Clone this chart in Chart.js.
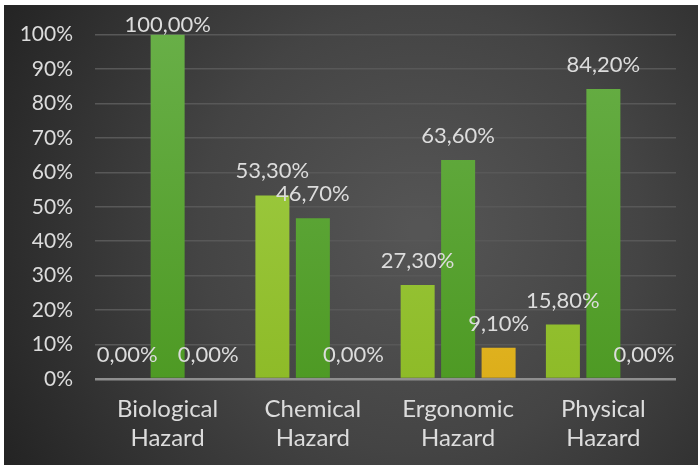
<!DOCTYPE html>
<html>
<head>
<meta charset="utf-8">
<script src="https://cdn.jsdelivr.net/npm/chart.js@4/dist/chart.umd.min.js"></script>
<style>
    html, body { margin: 0; padding: 0; background: #fff; }
    #wrap { width: 699px; height: 465px; }
</style>
</head>
<body>
<div id="wrap"><canvas id="chart" width="699" height="465"></canvas></div>
<script>
// data
const categories = [['Biological', 'Hazard'], ['Chemical', 'Hazard'], ['Ergonomic', 'Hazard'], ['Physical', 'Hazard']];
const series1 = [0, 53.3, 27.3, 15.8];   // light green
const series2 = [100, 46.7, 63.6, 84.2]; // green
const series3 = [0, 0, 9.1, 0];          // yellow
const yTicks = [0, 10, 20, 30, 40, 50, 60, 70, 80, 90, 100];

const textColor = '#dcdcdc';
const fontFamily = 'Lato, "Open Sans", sans-serif';

function barGradient(top, bottom) {
    return function (ctx) {
        const area = ctx.chart.chartArea;
        if (!area) return bottom;
        const g = ctx.chart.ctx.createLinearGradient(0, area.top, 0, area.bottom);
        g.addColorStop(0, top);
        g.addColorStop(1, bottom);
        return g;
    };
}

// dark background with a soft radial light
const background = {
    id: 'background',
    beforeDraw(chart) {
        const c = chart.ctx;
        c.save();
        c.fillStyle = '#ffffff';
        c.fillRect(0, 0, chart.width, chart.height);
        const g = c.createRadialGradient(420, 230, 10, 420, 230, 480);
        g.addColorStop(0, '#555555');
        g.addColorStop(0.45, '#444444');
        g.addColorStop(1, '#232323');
        c.fillStyle = g;
        c.fillRect(4, 5, chart.width - 5, chart.height - 5);
        c.restore();
    }
};

// value labels above each bar, Excel style "53,30%"
const valueLabels = {
    id: 'valueLabels',
    afterDatasetsDraw(chart) {
        const c = chart.ctx;
        c.save();
        c.font = '22px ' + fontFamily;
        c.fillStyle = textColor;
        c.textAlign = 'center';
        c.textBaseline = 'alphabetic';
        chart.data.datasets.forEach((ds, i) => {
            chart.getDatasetMeta(i).data.forEach((bar, j) => {
                const txt = ds.data[j].toFixed(2).replace('.', ',') + '%';
                let y = bar.y - 17;
                if (y < 32) y = 32;
                c.fillText(txt, bar.x, y);
            });
        });
        c.restore();
    }
};

new Chart(document.getElementById('chart'), {
    type: 'bar',
    data: {
        labels: categories,
        datasets: [
            { label: 'Series 1', data: series1, backgroundColor: barGradient('#a2d04a', '#8ebb28') },
            { label: 'Series 2', data: series2, backgroundColor: barGradient('#68af47', '#4e9a24') },
            { label: 'Series 3', data: series3, backgroundColor: barGradient('#f6cc45', '#dcae1a') }
        ]
    },
    options: {
        responsive: false,
        animation: false,
        devicePixelRatio: 1,
        layout: { padding: { top: 34, right: 23, left: 0, bottom: 0 } },
        datasets: {
            bar: { barPercentage: 0.84, categoryPercentage: 0.836 }
        },
        plugins: {
            legend: { display: false },
            tooltip: { enabled: false }
        },
        scales: {
            x: {
                grid: { display: false },
                border: { display: false },
                ticks: {
                    color: textColor,
                    font: { family: fontFamily, size: 24, lineHeight: 1.2 },
                    padding: 8,
                    maxRotation: 0
                },
                afterFit(scale) { scale.height = 86; }
            },
            y: {
                min: 0,
                max: 100,
                afterBuildTicks(scale) { scale.ticks = yTicks.map(v => ({ value: v })); },
                grid: {
                    drawTicks: false,
                    color: ctx => ctx.tick && ctx.tick.value === 0 ? '#8f8f8f' : '#585858',
                    lineWidth: ctx => ctx.tick && ctx.tick.value === 0 ? 2.5 : 1.5
                },
                border: { display: false },
                ticks: {
                    color: textColor,
                    font: { family: fontFamily, size: 21 },
                    padding: 22,
                    callback: v => v + '%'
                },
                afterFit(scale) { scale.width = 95; }
            }
        }
    },
    plugins: [background, valueLabels]
});
</script>
</body>
</html>
